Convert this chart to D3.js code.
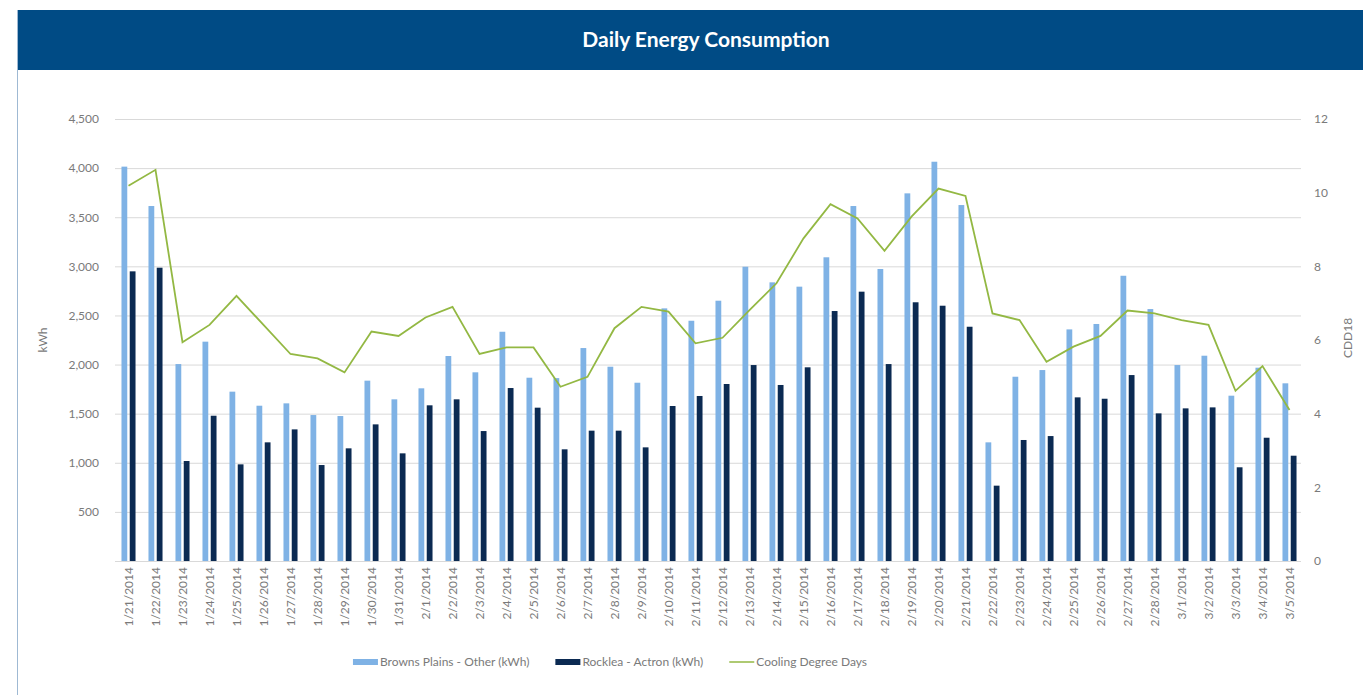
<!doctype html>
<html>
  <head>
    <script src="https://cdn.jsdelivr.net/npm/d3@7"></script>
    <style>
      body { margin: 0; background: #fff; }
      text { font-family: Lato, "Open Sans", sans-serif; }
    </style>
  </head>
  <body>
    <svg id="chart" width="1363" height="695"></svg>

    <script>
      var dates = ["1/21/2014","1/22/2014","1/23/2014","1/24/2014","1/25/2014","1/26/2014","1/27/2014","1/28/2014","1/29/2014","1/30/2014","1/31/2014",
        "2/1/2014","2/2/2014","2/3/2014","2/4/2014","2/5/2014","2/6/2014","2/7/2014","2/8/2014","2/9/2014","2/10/2014","2/11/2014","2/12/2014","2/13/2014",
        "2/14/2014","2/15/2014","2/16/2014","2/17/2014","2/18/2014","2/19/2014","2/20/2014","2/21/2014","2/22/2014","2/23/2014","2/24/2014","2/25/2014",
        "2/26/2014","2/27/2014","2/28/2014","3/1/2014","3/2/2014","3/3/2014","3/4/2014","3/5/2014"];

      var brownsPlains = [4015,3614,2005,2233,1724,1581,1605,1486,1476,1836,1646,1758,2087,1921,2334,1866,1862,2168,1978,1815,2572,2446,
        2650,2996,2837,2793,3092,3614,2973,3743,4065,3624,1208,1876,1944,2358,2413,2904,2565,1995,2090,1683,1968,1809];

      var rocklea = [2949,2986,1018,1479,984,1208,1340,977,1147,1391,1096,1585,1646,1323,1761,1561,1137,1327,1327,1157,1578,1680,
        1802,1995,1792,1972,2545,2742,2005,2634,2599,2385,767,1232,1272,1666,1652,1893,1503,1554,1564,954,1255,1072];

      var cdd = [10.19,10.62,5.94,6.41,7.20,6.41,5.62,5.50,5.12,6.23,6.11,6.61,6.90,5.62,5.80,5.80,4.73,5.00,6.32,6.90,6.77,5.91,
        6.06,6.81,7.54,8.76,9.69,9.30,8.42,9.35,10.11,9.91,6.72,6.54,5.41,5.82,6.11,6.80,6.72,6.54,6.41,4.62,5.29,4.10];

      var kwhTicks = [500,1000,1500,2000,2500,3000,3500,4000,4500];
      var cddTicks = [0,2,4,6,8,10,12];
      var seriesNames = ["Browns Plains - Other (kWh)", "Rocklea - Actron (kWh)", "Cooling Degree Days"];
      var colors = ["#7fb2e5", "#0b2a52", "#93b843"];

      var svg = d3.select("#chart");

      // header band
      svg.append("rect").attr("x", 18).attr("y", 10).attr("width", 1345).attr("height", 60).attr("fill", "#004b85");
      svg.append("line").attr("x1", 17.5).attr("x2", 17.5).attr("y1", 10).attr("y2", 695)
        .attr("stroke", "#9fb9d3").attr("stroke-width", 1);
      svg.append("text").attr("x", 706).attr("y", 47).attr("text-anchor", "middle")
        .attr("fill", "#fff").attr("font-size", 21).attr("font-weight", "bold")
        .text("Daily Energy Consumption");

      var plotLeft = 115, plotRight = 1303, plotTop = 119, plotBottom = 561;

      var x = d3.scaleBand().domain(dates).range([plotLeft, plotRight]).paddingInner(0.48).paddingOuter(0.24);
      var x1 = d3.scaleBand().domain([0, 1]).range([0, x.bandwidth()]).paddingInner(0.3);
      var y = d3.scaleLinear().domain([0, 4500]).range([plotBottom, plotTop]);
      var y2 = d3.scaleLinear().domain([0, 12]).range([plotBottom, plotTop]);

      // gridlines
      svg.append("g").selectAll("line").data(kwhTicks).enter().append("line")
        .attr("x1", plotLeft).attr("x2", plotRight - 2)
        .attr("y1", d => y(d) + 0.5).attr("y2", d => y(d) + 0.5)
        .attr("stroke", "#d9d9d9").attr("stroke-width", 1);
      svg.append("line").attr("x1", plotLeft).attr("x2", plotRight - 2)
        .attr("y1", plotBottom + 0.5).attr("y2", plotBottom + 0.5).attr("stroke", "#d9d9d9");

      // axes
      var leftAxis = svg.append("g").attr("transform", "translate(99,0)")
        .call(d3.axisLeft(y).tickValues(kwhTicks).tickSize(0).tickPadding(0).tickFormat(d3.format(",")));
      leftAxis.select(".domain").remove();
      leftAxis.selectAll("text").attr("fill", "#7a7a7a").attr("font-size", 12).attr("font-family", "Lato, sans-serif");

      var rightAxis = svg.append("g").attr("transform", "translate(1314,0)")
        .call(d3.axisRight(y2).tickValues(cddTicks).tickSize(0).tickPadding(0));
      rightAxis.select(".domain").remove();
      rightAxis.selectAll("text").attr("fill", "#7a7a7a").attr("font-size", 12).attr("font-family", "Lato, sans-serif");

      svg.append("text").attr("transform", "translate(47,340) rotate(-90)").attr("text-anchor", "middle")
        .attr("fill", "#7a7a7a").attr("font-size", 12).text("kWh");
      svg.append("text").attr("transform", "translate(1352,338) rotate(-90)").attr("text-anchor", "middle")
        .attr("fill", "#7a7a7a").attr("font-size", 12).text("CDD18");

      // x axis labels
      var xAxis = svg.append("g").attr("transform", "translate(0," + (plotBottom + 6) + ")")
        .call(d3.axisBottom(x).tickSize(0).tickPadding(0));
      xAxis.select(".domain").remove();
      xAxis.selectAll("text")
        .attr("fill", "#7a7a7a").attr("font-size", 12).attr("font-family", "Lato, sans-serif")
        .attr("text-anchor", "end").attr("dy", null).attr("y", 0).attr("x", 0)
        .attr("transform", "rotate(-90) translate(0,4)");

      // bars
      var groups = svg.append("g").selectAll("g").data(dates).enter().append("g")
        .attr("transform", d => "translate(" + x(d) + ",0)");
      groups.append("rect")
        .attr("x", x1(0)).attr("width", x1.bandwidth())
        .attr("y", (d, i) => y(brownsPlains[i])).attr("height", (d, i) => plotBottom - y(brownsPlains[i]))
        .attr("fill", colors[0]);
      groups.append("rect")
        .attr("x", x1(1)).attr("width", x1.bandwidth())
        .attr("y", (d, i) => y(rocklea[i])).attr("height", (d, i) => plotBottom - y(rocklea[i]))
        .attr("fill", colors[1]);

      // cooling degree days line
      var line = d3.line()
        .x((d, i) => x(dates[i]) + x.bandwidth() / 2)
        .y(d => y2(d));
      svg.append("path").datum(cdd).attr("d", line)
        .attr("fill", "none").attr("stroke", colors[2]).attr("stroke-width", 1.8);

      // legend, laid out in sequence and centred under the plot
      var legend = svg.append("g");
      var cursor = 0;
      seriesNames.forEach(function(name, i) {
        var g = legend.append("g").attr("transform", "translate(" + cursor + ",0)");
        if (i < 2) {
          g.append("rect").attr("x", 0).attr("y", -3).attr("width", 25).attr("height", 6).attr("fill", colors[i]);
        } else {
          g.append("line").attr("x1", 0).attr("x2", 25).attr("y1", 0).attr("y2", 0)
            .attr("stroke", colors[i]).attr("stroke-width", 1.5);
        }
        var t = g.append("text").attr("x", 27).attr("y", 4).attr("fill", "#7a7a7a").attr("font-size", 12).text(name);
        cursor += 27 + t.node().getComputedTextLength() + 26;
      });
      var legendWidth = cursor - 26;
      legend.attr("transform", "translate(" + (610 - legendWidth / 2) + ",662)");
    </script>
  </body>
</html>
